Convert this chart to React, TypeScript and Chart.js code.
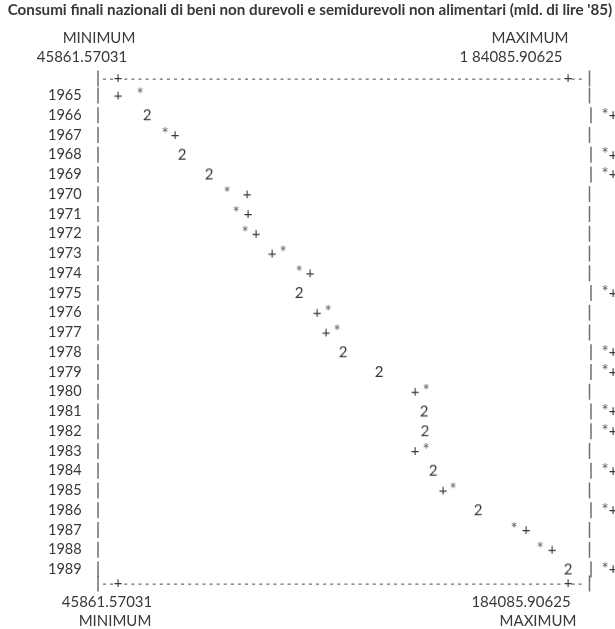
import React, { useEffect, useRef } from 'react';
import { Chart, registerables } from 'chart.js';

Chart.register(...registerables);

const TITLE = "Consumi finali nazionali di beni non durevoli e semidurevoli non alimentari (mld. di lire '85)";
const MIN_VALUE = 45861.57031;
const MAX_VALUE = 184085.90625;
const MIN_WORD = 'MINIMUM';
const MAX_WORD = 'MAXIMUM';
const MIN_LABEL_TOP = '45861.57031';
const MAX_LABEL_TOP = '1 84085.90625';
const MIN_LABEL_BOTTOM = '45861.57031';
const MAX_LABEL_BOTTOM = '184085.90625';

const years = [
  1965, 1966, 1967, 1968, 1969, 1970, 1971, 1972, 1973, 1974, 1975, 1976, 1977,
  1978, 1979, 1980, 1981, 1982, 1983, 1984, 1985, 1986, 1987, 1988, 1989,
];

// '+' series
const plusValues = [
  45861.57, 54770, 63370, 65520, 73810, 85490, 85790, 88250, 93170, 104840, 101460,
  106990, 109750, 114970, 126030, 137090, 139850, 140100, 137090, 142620, 145690,
  156440, 171190, 179170, 184085.9,
];

// '*' series
const starValues = [
  52620, 54600, 60300, 65300, 73600, 79340, 82110, 84870, 96540, 101460, 101300,
  110370, 113130, 114800, 125900, 140470, 139700, 139900, 140470, 142500, 148760,
  156300, 167500, 175490, 183900,
];

const FONT = 'Lato, "Open Sans", sans-serif';
const TEXT = '#383838';
const STAR = '#5e5e5e';
const RULE = '#707070';

const W = 615;
const H = 629;
const X_LEFT = 118;
const X_RIGHT = 568;
const ROW_STEP = 19.75;
const FIRST_ROW = 95.5;

function glyph(ch: string, color: string, size = 15): HTMLCanvasElement {
  const c = document.createElement('canvas');
  c.width = 24;
  c.height = 24;
  const g = c.getContext('2d')!;
  g.font = `${size}px ${FONT}`;
  g.fillStyle = color;
  g.textAlign = 'center';
  g.textBaseline = 'middle';
  g.fillText(ch, 12, 12);
  return c;
}

function overlaps(chart: any, i: number): boolean {
  const xs = chart.scales.x;
  return Math.abs(xs.getPixelForValue(plusValues[i]) - xs.getPixelForValue(starValues[i])) < 5;
}

const textPlugin = {
  id: 'lineprinter',
  afterDraw(chart: any) {
    const ctx = chart.ctx as CanvasRenderingContext2D;
    const xs = chart.scales.x;
    const ys = chart.scales.y;
    ctx.save();
    ctx.textBaseline = 'middle';

    // title
    ctx.font = `bold 15.2px ${FONT}`;
    ctx.fillStyle = TEXT;
    ctx.textAlign = 'center';
    ctx.fillText(TITLE, 310, 10);

    ctx.font = `15px ${FONT}`;
    ctx.fillText(MIN_WORD, 99, 38);
    ctx.fillText(MAX_WORD, 530, 38);
    ctx.fillText(MIN_LABEL_TOP, 82, 57);
    ctx.fillText(MAX_LABEL_TOP, 511, 57);

    const xMin = xs.getPixelForValue(MIN_VALUE);
    const xMax = xs.getPixelForValue(MAX_VALUE);
    const leftBar = 98;
    const rightBar = 589.5;

    const bar = (x: number, y: number) => {
      ctx.fillStyle = RULE;
      ctx.fillRect(x - 0.75, y - 8, 1.5, 16);
    };

    const borderRow = (y: number) => {
      bar(leftBar, y);
      bar(rightBar, y);
      ctx.fillStyle = RULE;
      for (let x = leftBar + 5; x < rightBar - 4; x += 7.1) {
        if (Math.abs(x + 1.5 - xMin) < 5 || Math.abs(x + 1.5 - xMax) < 5) continue;
        ctx.fillRect(x, y, 3, 1.3);
      }
      ctx.font = `15px ${FONT}`;
      ctx.fillStyle = TEXT;
      ctx.textAlign = 'center';
      ctx.fillText('+', xMin, y);
      ctx.fillText('+', xMax, y);
    };

    const yTop = ys.getPixelForValue(years[0]) - 17;
    const yBottom = ys.getPixelForValue(years[years.length - 1]) + 14;
    borderRow(yTop);
    borderRow(yBottom);

    years.forEach((yr, i) => {
      const y = ys.getPixelForValue(yr);
      ctx.font = `14.5px ${FONT}`;
      ctx.fillStyle = TEXT;
      ctx.textAlign = 'left';
      ctx.fillText(String(yr), 48, y);
      bar(leftBar, y);
      if (overlaps(chart, i)) {
        bar(rightBar + 1.5, y);
        ctx.textAlign = 'center';
        ctx.font = `17px ${FONT}`;
        ctx.fillStyle = STAR;
        ctx.fillText('*', 605, y);
        ctx.font = `15px ${FONT}`;
        ctx.fillStyle = TEXT;
        ctx.fillText('+', 613, y);
      } else {
        bar(rightBar, y);
      }
    });

    ctx.font = `15px ${FONT}`;
    ctx.fillStyle = TEXT;
    ctx.textAlign = 'center';
    ctx.fillText(MIN_LABEL_BOTTOM, 107, 602);
    ctx.fillText(MIN_WORD, 115, 621);
    ctx.fillText(MAX_LABEL_BOTTOM, 521, 602);
    ctx.fillText(MAX_WORD, 538, 621);
    ctx.restore();
  },
};

export default function App() {
  const ref = useRef<HTMLCanvasElement | null>(null);

  useEffect(() => {
    if (!ref.current) return;
    const plusGlyph = glyph('+', TEXT);
    const twoGlyph = glyph('2', TEXT);
    const starGlyph = glyph('*', STAR, 17);

    const plusPoints = years.map((y, i) => ({ x: plusValues[i], y }));
    const starPoints = years.map((y, i) => ({ x: starValues[i], y }));

    const yMin = years[0] - 1;
    const yMax = years[years.length - 1] + 1;
    const top = FIRST_ROW - ROW_STEP;
    const bottom = FIRST_ROW + ROW_STEP * (yMax - years[0]);

    const chart = new Chart(ref.current, {
      type: 'scatter',
      data: {
        datasets: [
          {
            label: '+',
            data: plusPoints,
            clip: false as any,
            pointRadius: 4,
            pointStyle: (c: any) => (overlaps(c.chart, c.dataIndex) ? twoGlyph : plusGlyph),
          },
          {
            label: '*',
            data: starPoints,
            clip: false as any,
            pointRadius: (c: any) => (overlaps(c.chart, c.dataIndex) ? 0 : 4),
            pointStyle: starGlyph,
          },
        ],
      },
      options: {
        animation: false,
        responsive: false,
        maintainAspectRatio: false,
        events: [],
        layout: {
          padding: { left: X_LEFT, right: W - X_RIGHT, top, bottom: H - bottom },
        },
        scales: {
          x: { type: 'linear', min: MIN_VALUE, max: MAX_VALUE, display: false },
          y: { type: 'linear', min: yMin, max: yMax, reverse: true, display: false },
        },
        plugins: {
          legend: { display: false },
          tooltip: { enabled: false },
          title: { display: false },
        },
      },
      plugins: [textPlugin],
    });
    return () => chart.destroy();
  }, []);

  return (
    <div style={{ position: 'fixed', left: 0, top: 0, width: W, height: H, background: '#fff' }}>
      <canvas ref={ref} width={W} height={H} style={{ display: 'block', width: W, height: H }} />
    </div>
  );
}
